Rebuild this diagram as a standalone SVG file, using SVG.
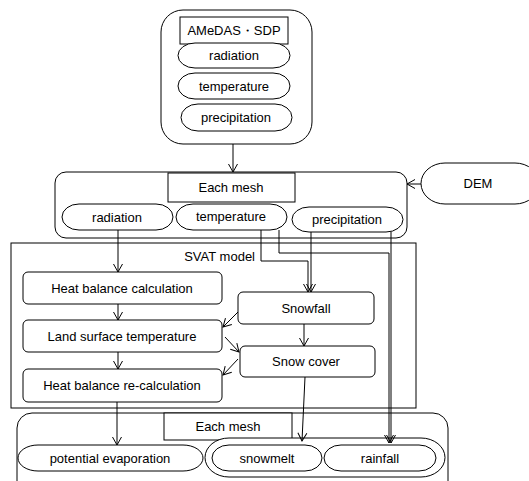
<svg xmlns="http://www.w3.org/2000/svg" width="529" height="481" viewBox="0 0 529 481">
<defs>
<style>
.n{fill:#fff;stroke:#000;stroke-width:1}
.c{fill:none;stroke:#000;stroke-width:1}
.t{font-family:"Liberation Sans",Arial,sans-serif;font-size:13px;fill:#000;text-anchor:middle}
</style>
<marker id="ah" markerUnits="userSpaceOnUse" markerWidth="12" markerHeight="12" viewBox="-10 -6 12 12" refX="0" refY="0" orient="auto">
<path d="M-8,-4.5 L0,0 L-8,4.5" fill="none" stroke="#000" stroke-width="1"/>
</marker>
</defs>
<rect width="529" height="481" fill="#fff"/>

<g id="svat">
<rect class="n" x="11" y="243" width="405" height="165"/>
<text class="t" x="255" y="261" style="text-anchor:end">SVAT model</text>
</g>

<g id="bottom-mesh">
<rect class="n" x="17" y="413" width="431" height="95" rx="15"/>
<rect class="n" x="164" y="413" width="128" height="27"/>
<text class="t" x="228" y="431">Each mesh</text>
</g>

<g id="amedas-group">
<rect class="n" x="161" y="10" width="151" height="134" rx="22"/>
<rect class="n" x="180" y="17" width="108" height="27"/>
<text class="t" x="234" y="35">AMeDAS・SDP</text>
<rect class="n" x="178" y="43" width="112" height="25" rx="17" ry="12.5"/>
<text class="t" x="234" y="60">radiation</text>
<rect class="n" x="178" y="73" width="112" height="26" rx="17" ry="13"/>
<text class="t" x="234" y="91">temperature</text>
<rect class="n" x="181" y="104" width="111" height="27" rx="17" ry="13.5"/>
<text class="t" x="236" y="122">precipitation</text>
</g>

<g id="mesh-group">
<rect class="n" x="55" y="172" width="352" height="66" rx="11"/>
<rect class="n" x="168" y="173" width="127" height="29"/>
<text class="t" x="231" y="192">Each mesh</text>
<rect class="n" x="62" y="204" width="111" height="26" rx="17" ry="13"/>
<text class="t" x="117" y="222">radiation</text>
<rect class="n" x="176" y="204" width="111" height="26" rx="17" ry="13"/>
<text class="t" x="231" y="221">temperature</text>
<rect class="n" x="292" y="207" width="111" height="25" rx="17" ry="12.5"/>
<text class="t" x="347" y="224">precipitation</text>
</g>

<g id="dem">
<rect class="n" x="421" y="163" width="118" height="41" rx="24" ry="20.5"/>
<text class="t" x="478" y="188">DEM</text>
</g>

<g id="heat-balance">
<rect class="n" x="23" y="272" width="199" height="32" rx="5"/>
<text class="t" x="122" y="293">Heat balance calculation</text>
</g>
<g id="land-surface">
<rect class="n" x="23" y="320" width="199" height="32" rx="5"/>
<text class="t" x="122" y="341">Land surface temperature</text>
</g>
<g id="heat-recalc">
<rect class="n" x="23" y="369" width="199" height="33" rx="5"/>
<text class="t" x="122" y="390">Heat balance re-calculation</text>
</g>
<g id="snowfall">
<rect class="n" x="238" y="292" width="136" height="32" rx="5"/>
<text class="t" x="306" y="313">Snowfall</text>
</g>
<g id="snowcover">
<rect class="n" x="240" y="346" width="135" height="31" rx="5"/>
<text class="t" x="306" y="366">Snow cover</text>
</g>

<g id="outputs">
<rect class="n" x="18" y="445" width="185" height="26" rx="20" ry="13"/>
<text class="t" x="110" y="463">potential evaporation</text>
<rect class="n" x="205" y="438" width="240" height="39" rx="24" ry="19.5"/>
<rect class="n" x="212" y="445" width="110" height="26" rx="17" ry="13"/>
<text class="t" x="267" y="463">snowmelt</text>
<rect class="n" x="324" y="445" width="112" height="26" rx="17" ry="13"/>
<text class="t" x="380" y="463">rainfall</text>
</g>

<g id="connectors">
<path class="c" d="M233,144 V172" marker-end="url(#ah)"/>
<path class="c" d="M421,184 H407" marker-end="url(#ah)"/>
<path class="c" d="M118,230 V272" marker-end="url(#ah)"/>
<path class="c" d="M261,230 V261 H308 V292" marker-end="url(#ah)"/>
<path class="c" d="M311,232 V292" marker-end="url(#ah)"/>
<path class="c" d="M279,230 V253 H389 V443" marker-end="url(#ah)"/>
<path class="c" d="M391,232 V443" marker-end="url(#ah)"/>
<path class="c" d="M118,304 V320" marker-end="url(#ah)"/>
<path class="c" d="M118,352 V369" marker-end="url(#ah)"/>
<path class="c" d="M117,402 V445" marker-end="url(#ah)"/>
<path class="c" d="M304,324 V346" marker-end="url(#ah)"/>
<path class="c" d="M238,312 L223,327" marker-end="url(#ah)"/>
<path class="c" d="M225,337 L239,352" marker-end="url(#ah)"/>
<path class="c" d="M238,359 L223,375" marker-end="url(#ah)"/>
<path class="c" d="M305,377 L302,441" marker-end="url(#ah)"/>
</g>
</svg>
